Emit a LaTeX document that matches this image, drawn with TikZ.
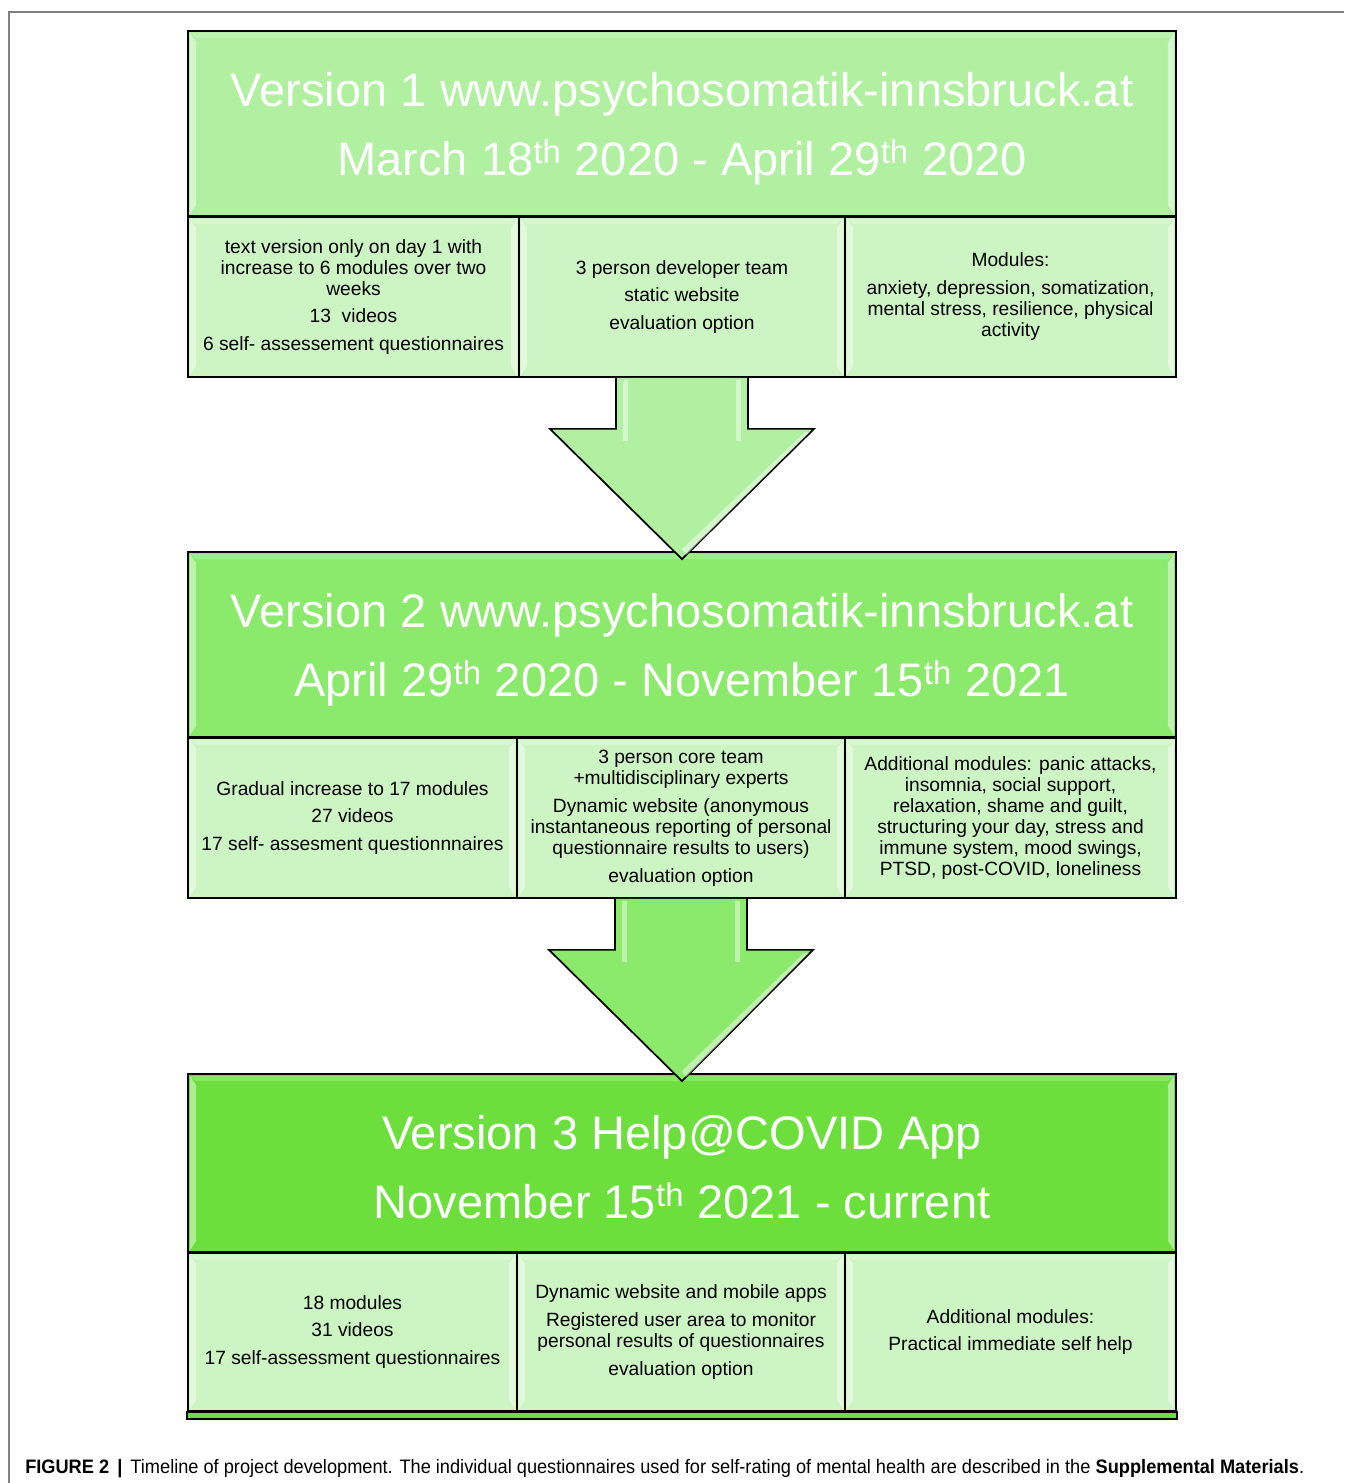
\documentclass[tikz,border=0pt]{standalone}
\usepackage{fontspec}
\setmainfont{Liberation Sans}
\usetikzlibrary{calc}

\definecolor{hdOne}{RGB}{176,240,160}
\definecolor{hdTwo}{RGB}{139,233,107}
\definecolor{hdThree}{RGB}{108,223,60}
\definecolor{cellGreen}{RGB}{205,245,196}
\definecolor{frameGray}{RGB}{128,128,128}

\tikzset{
  hd/.style={draw, line width=1.3pt, inner sep=0pt,
    minimum width=741pt, minimum height=138.75pt},
  hdtext/.style={inner sep=0pt, text=white, align=center,
    font=\fontsize{35.3}{51.75}\selectfont},
  cell/.style={draw, line width=1.3pt, inner sep=0pt, fill=cellGreen, align=center,
    minimum height=120pt, font=\fontsize{14.4}{15.75}\selectfont},
  blockarrow/.style={draw, line width=1.3pt, line join=miter},
  shine/.style={white, opacity=0.45},
}
\newcommand{\gap}{\\[5.2pt]}

\begin{document}
\begin{tikzpicture}[x=0.75pt,y=0.75pt,yscale=-1,xscale=1]
\useasboundingbox (0,0) rectangle (1344,1483);

%Frame
\draw[frameGray, line width=1pt] (9,1483) -- (9,12) -- (1344,12);

% Version 1
\node (h1) [hd, fill=hdOne] at (682,123.5) {};
\node (c11) [cell, minimum width=248.25pt] at (353.5,297) {text version only on day 1 with\\increase to 6 modules over two\\weeks\gap 13~ videos\gap 6 self- assessement questionnaires};
\node (c12) [cell, minimum width=244.5pt] at (682,297) {3 person developer team\gap static website\gap evaluation option};
\node (c13) [cell, minimum width=248.25pt] at (1010.5,297) {Modules:\gap anxiety, depression, somatization,\\mental stress, resilience, physical\\activity};

% Version 2
\node (h2) [hd, fill=hdTwo] at (682,644.5) {};
\node (c21) [cell, minimum width=246.75pt] at (352.5,818) {Gradual increase to 17 modules\gap 27 videos\gap 17 self- assesment questionnnaires};
\node (c22) [cell, minimum width=246pt] at (681,818) {3 person core team\\+multidisciplinary experts\gap Dynamic website (anonymous\\instantaneous reporting of personal\\questionnaire results to users)\gap evaluation option};
\node (c23) [cell, minimum width=248.25pt] at (1010.5,818) {Additional modules: panic attacks,\\insomnia, social support,\\relaxation, shame and guilt,\\structuring your day, stress and\\immune system, mood swings,\\PTSD, post-COVID, loneliness};

% Version 3
\node (h3) [hd, fill=hdThree, minimum height=133.5pt] at (682,1163) {};
\node (c31) [cell, minimum width=246.75pt, minimum height=118.5pt] at (352.5,1332) {18 modules\gap 31 videos\gap 17 self-assessment questionnaires};
\node (c32) [cell, minimum width=246pt, minimum height=118.5pt] at (681,1332) {Dynamic website and mobile apps\gap Registered user area to monitor\\personal results of questionnaires\gap evaluation option};
\node (c33) [cell, minimum width=248.25pt, minimum height=118.5pt] at (1010.5,1332) {Additional modules:\gap Practical immediate self help};
\draw[line width=1.3pt, fill=hdThree] (c31.south west) rectangle ($(c33.south east)+(0,7)$);

% bevel highlights
\foreach \n in {h1,c11,c12,c13,h2,c21,c22,c23,h3,c31,c32,c33}{
  \fill[shine] ($(\n.north west)+(3,3)$) -- ($(\n.north west)+(9,12)$) -- ($(\n.south west)+(9,-12)$) -- ($(\n.south west)+(3,-3)$) -- cycle;
  \fill[shine] ($(\n.north east)+(-3,3)$) -- ($(\n.north east)+(-9,12)$) -- ($(\n.south east)+(-9,-12)$) -- ($(\n.south east)+(-3,-3)$) -- cycle;
  \fill[white, opacity=0.2] ($(\n.north west)+(3,3)$) -- ($(\n.north east)+(-3,3)$) -- ($(\n.north east)+(-9,8)$) -- ($(\n.north west)+(9,8)$) -- cycle;
}

% Header titles
\node (t1) [hdtext] at ($(h1.center)+(0,5)$) {Version 1 www.psychosomatik-innsbruck.at\\March 18\textsuperscript{th} 2020 - April 29\textsuperscript{th} 2020};
\node (t2) [hdtext] at ($(h2.center)+(0,5)$) {Version 2 www.psychosomatik-innsbruck.at\\April 29\textsuperscript{th} 2020 - November 15\textsuperscript{th} 2021};
\node (t3) [hdtext] at ($(h3.center)+(0,4)$) {Version 3 Help@COVID App\\November 15\textsuperscript{th} 2021 - current};

% Arrows between versions
\foreach \a/\b/\col in {c12/h2/hdOne, c22/h3/hdTwo}{
  \draw[blockarrow, fill=\col] ($(\a.south)+(-66,0)$) -- ($(\a.south)+(-66,51)$) -- ($(\a.south)+(-132,51)$) -- ($(\b.north)+(0,8)$) -- ($(\a.south)+(132,51)$) -- ($(\a.south)+(66,51)$) -- ($(\a.south)+(66,0)$);
  \fill[shine] ($(\a.south)+(-59,2)$) rectangle ($(\a.south)+(-54,63)$);
  \fill[shine] ($(\a.south)+(54,2)$) rectangle ($(\a.south)+(59,63)$);
  \fill[shine] ($(\a.south)+(123,54)$) -- ($(\a.south)+(128,54)$) -- ($(\b.north)+(4,4)$) -- ($(\b.north)+(0,-2)$) -- cycle;
}

% Caption
\node (cap) [anchor=west, inner sep=0pt, font=\fontsize{14.6}{17}\selectfont] at (25,1469) {\scalebox{0.935}[1]{\textbf{FIGURE 2 \,|}\, Timeline of project development. The individual questionnaires used for self-rating of mental health are described in the \textbf{Supplemental Materials}.}};

\end{tikzpicture}
\end{document}
